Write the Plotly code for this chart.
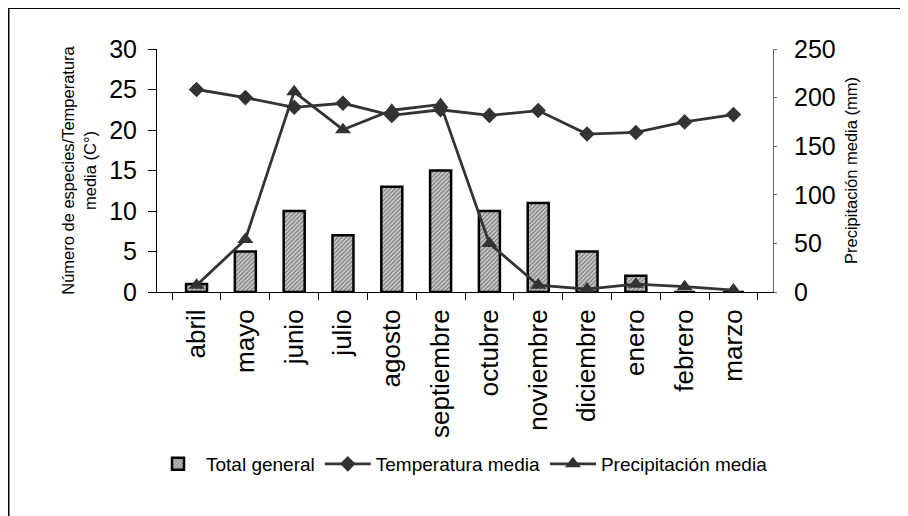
import plotly.graph_objects as go

meses = ["abril", "mayo", "junio", "julio", "agosto", "septiembre", "octubre",
         "noviembre", "diciembre", "enero", "febrero", "marzo"]
total_general = [1, 5, 10, 7, 13, 15, 10, 11, 5, 2, 0, 0]
temperatura_media = [25, 24, 22.8, 23.3, 21.8, 22.5, 21.8, 22.4, 19.5, 19.7, 21, 21.9]
precipitacion_media = [7, 54, 206, 167, 187, 193, 50, 7, 3, 8, 5.5, 2]

FONT = "Liberation Sans, Arial, sans-serif"
DARK = "#333333"

# the page body has an 8px margin: figure coords = screen coords - 8
OFF = 8
L, R, T, B = 157 - OFF, 908 - 773 + OFF, 49 - OFF, 516 - 292 + OFF
PW, PH = 908 - L - R, 516 - T - B


def px(x_screen):
    return (x_screen - OFF - L) / PW


def py(y_screen):
    return (T + PH - (y_screen - OFF)) / PH


fig = go.Figure()
fig.add_trace(go.Bar(
    x=meses, y=total_general, name="Total general", width=0.43,
    marker=dict(color="#9a9a9a", line=dict(color="black", width=2.5),
                pattern=dict(shape="/", fgcolor="#3a3a3a", bgcolor="#cfcfcf",
                             size=3, solidity=0.5)),
))
fig.add_trace(go.Scatter(
    x=meses, y=temperatura_media, name="Temperatura media", mode="lines+markers",
    line=dict(color=DARK, width=2.8),
    marker=dict(symbol="diamond", size=12, color=DARK),
))
fig.add_trace(go.Scatter(
    x=meses, y=precipitacion_media, name="Precipitación media", mode="lines+markers",
    yaxis="y2", line=dict(color=DARK, width=2.8),
    marker=dict(symbol="triangle-up", size=14, color=DARK),
))

fig.update_layout(
    width=908, height=516,
    margin=dict(l=L, r=R, t=T, b=B, autoexpand=False),
    paper_bgcolor="white", plot_bgcolor="white",
    font=dict(family=FONT, color="black"),
    showlegend=True,
    legend=dict(orientation="h", x=px(150), xanchor="left",
                y=py(464), yanchor="middle",
                font=dict(size=19, family=FONT), itemwidth=46, traceorder="normal",
                bgcolor="rgba(0,0,0,0)", tracegroupgap=0),
    xaxis=dict(
        type="category", tickangle=-90, tickfont=dict(size=26, family=FONT),
        showline=True, linecolor="black", linewidth=1,
        ticks="outside", ticklen=7, tickcolor="black", tickson="boundaries",
        ticklabelstandoff=6,
        showgrid=False, zeroline=False,
    ),
    yaxis=dict(
        range=[0, 30], dtick=5, tickfont=dict(size=25, family=FONT),
        showline=True, linecolor="black", linewidth=1,
        ticks="outside", ticklen=8, tickcolor="black", ticklabelstandoff=6,
        showgrid=False, zeroline=False,
        title=dict(text="Número de especies/Temperatura<br>media (C°)",
                   font=dict(size=16.5, family=FONT), standoff=8),
    ),
    yaxis2=dict(
        range=[0, 250], dtick=50, overlaying="y", side="right",
        tickfont=dict(size=25, family=FONT),
        showline=True, linecolor="#666666", linewidth=1,
        ticks="outside", ticklen=3, tickcolor="#666666", ticklabelstandoff=12,
        showgrid=False, zeroline=False,
        title=dict(text="Precipitación media (mm)", font=dict(size=16.5, family=FONT),
                   standoff=10),
    ),
    shapes=[
        dict(type="line", xref="paper", yref="paper",
             x0=px(8.5), x1=px(930), y0=py(8), y1=py(8),
             line=dict(color="black", width=2)),
        dict(type="line", xref="paper", yref="paper",
             x0=px(8.5), x1=px(8.5), y0=py(7), y1=py(540),
             line=dict(color="black", width=2)),
    ],
)

fig.write_html("out.html")
